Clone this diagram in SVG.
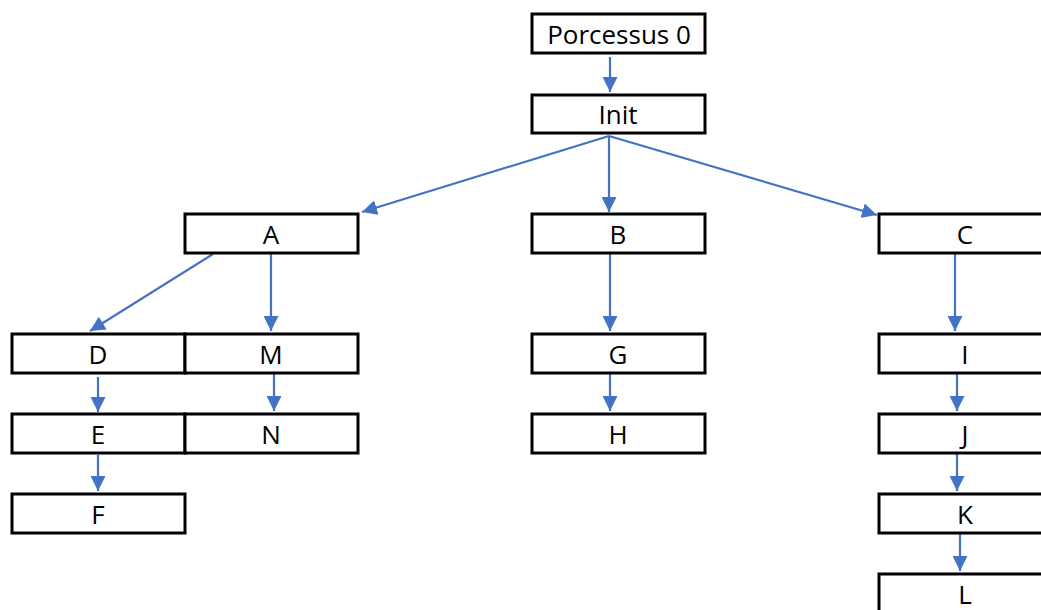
<svg xmlns="http://www.w3.org/2000/svg" width="1041" height="610" viewBox="0 0 1041 610">
<style>
.box{fill:#fff;stroke:#000;stroke-width:3}
.lbl{font-family:"Open Sans","Liberation Sans",sans-serif;font-size:26px;fill:#000;text-anchor:middle;dominant-baseline:central}
.con{stroke:#4472C4;stroke-width:2.2;fill:none;marker-end:url(#ah)}
</style>
<defs>
<marker id="ah" markerUnits="userSpaceOnUse" markerWidth="15" markerHeight="15" refX="15" refY="7.5" orient="auto">
<path d="M0,0 L15,7.5 L0,15 Z" fill="#4472C4"/>
</marker>
</defs>
<rect width="1041" height="610" fill="#fff"/>
<g id="connectors">
<line class="con" x1="610" y1="57" x2="610" y2="92"/>
<line class="con" x1="609" y1="136" x2="362" y2="212"/>
<line class="con" x1="609" y1="136" x2="609" y2="212"/>
<line class="con" x1="609" y1="136" x2="877" y2="215"/>
<line class="con" x1="213" y1="254" x2="90" y2="331"/>
<line class="con" x1="271" y1="254" x2="271" y2="331"/>
<line class="con" x1="98" y1="377" x2="98" y2="412"/>
<line class="con" x1="274" y1="374" x2="274" y2="411"/>
<line class="con" x1="98" y1="455" x2="98" y2="491"/>
<line class="con" x1="610" y1="254" x2="610" y2="331"/>
<line class="con" x1="610" y1="373" x2="610" y2="411"/>
<line class="con" x1="955" y1="254" x2="955" y2="331"/>
<line class="con" x1="957" y1="373" x2="957" y2="411"/>
<line class="con" x1="957" y1="454" x2="957" y2="491"/>
<line class="con" x1="960" y1="534" x2="960" y2="571"/>
</g>
<g id="p0"><rect class="box" x="532" y="14" width="173" height="39"/><text class="lbl" x="619" y="34">Porcessus 0</text></g>
<g id="init"><rect class="box" x="532" y="95" width="173" height="38"/><text class="lbl" x="618" y="114">Init</text></g>
<g id="A"><rect class="box" x="185" y="214" width="173" height="39"/><text class="lbl" x="271" y="234">A</text></g>
<g id="B"><rect class="box" x="532" y="214" width="173" height="39"/><text class="lbl" x="618" y="234">B</text></g>
<g id="C"><rect class="box" x="879" y="214" width="173" height="39"/><text class="lbl" x="965" y="234">C</text></g>
<g id="D"><rect class="box" x="12" y="334" width="173" height="39"/><text class="lbl" x="98" y="354">D</text></g>
<g id="M"><rect class="box" x="185" y="334" width="173" height="39"/><text class="lbl" x="271" y="354">M</text></g>
<g id="G"><rect class="box" x="532" y="334" width="173" height="39"/><text class="lbl" x="618" y="354">G</text></g>
<g id="I"><rect class="box" x="879" y="334" width="173" height="39"/><text class="lbl" x="965" y="354">I</text></g>
<g id="E"><rect class="box" x="12" y="414" width="173" height="39"/><text class="lbl" x="98" y="434">E</text></g>
<g id="N"><rect class="box" x="185" y="414" width="173" height="39"/><text class="lbl" x="271" y="434">N</text></g>
<g id="H"><rect class="box" x="532" y="414" width="173" height="39"/><text class="lbl" x="618" y="434">H</text></g>
<g id="J"><rect class="box" x="879" y="414" width="173" height="39"/><text class="lbl" x="965" y="434">J</text></g>
<g id="F"><rect class="box" x="12" y="494" width="173" height="39"/><text class="lbl" x="98" y="514">F</text></g>
<g id="K"><rect class="box" x="879" y="494" width="173" height="39"/><text class="lbl" x="965" y="514">K</text></g>
<g id="L"><rect class="box" x="879" y="574" width="173" height="39"/><text class="lbl" x="965" y="594">L</text></g>
</svg>
